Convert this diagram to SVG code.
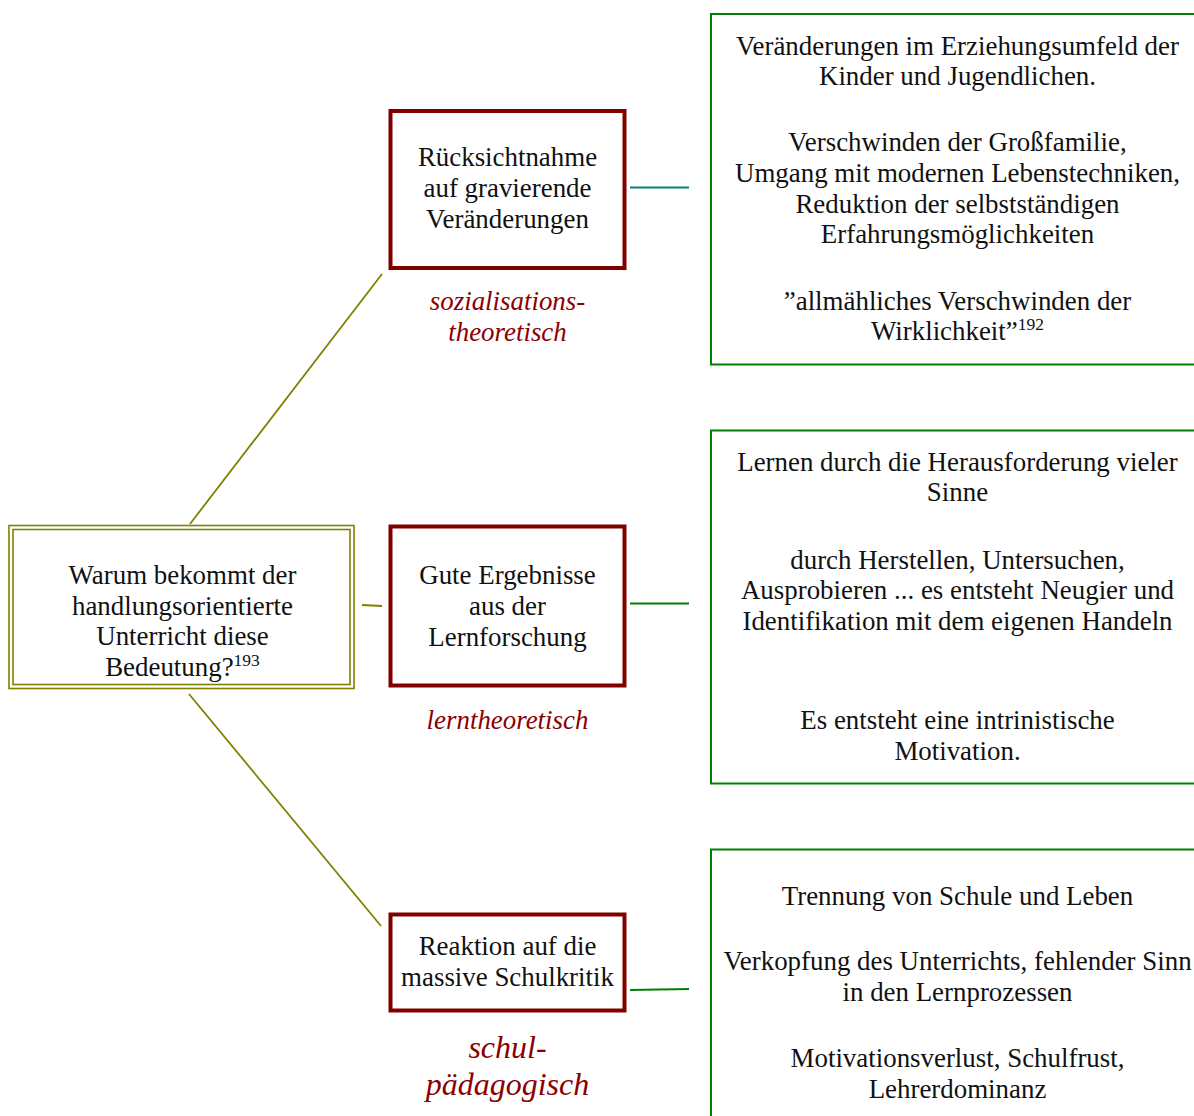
<svg xmlns="http://www.w3.org/2000/svg" width="1194" height="1116" viewBox="0 0 1194 1116">
<style>
text{font-family:"Liberation Serif","Times New Roman",serif;font-size:26.9px;fill:#111;text-anchor:middle}
.lbl{font-style:italic;fill:#8b0000}
.big{font-size:32px}
.sup{font-size:17.5px}
.red{fill:#fff;stroke:#800000;stroke-width:4}
.olive{fill:none;stroke:#808000;stroke-width:1.6}
.grn{fill:#fff;stroke:#008000;stroke-width:2}
.conn{fill:none;stroke-width:1.8}
</style>
<rect width="1194" height="1116" fill="#fff"/>
<g id="connectors">
<line class="conn" stroke="#808000" x1="190" y1="524" x2="382" y2="274"/>
<line class="conn" stroke="#808000" x1="362" y1="605" x2="382" y2="606"/>
<line class="conn" stroke="#808000" x1="189" y1="694" x2="381" y2="926"/>
<line class="conn" stroke="#008080" x1="630" y1="187.5" x2="689" y2="187.5"/>
<line class="conn" stroke="#008000" x1="630" y1="603.5" x2="689" y2="603.5"/>
<line class="conn" stroke="#008000" x1="630" y1="990" x2="689" y2="989"/>
</g>
<g id="root">
<rect class="olive" x="9" y="525.5" width="345" height="163"/>
<rect class="olive" x="13" y="529.5" width="337" height="155"/>
<text x="182.5" y="584">Warum bekommt der</text>
<text x="182.5" y="614.5">handlungsorientierte</text>
<text x="182.5" y="645">Unterricht diese</text>
<text x="182.5" y="676">Bedeutung?<tspan class="sup" dy="-10">193</tspan></text>
</g>
<g id="node-sozial">
<rect class="red" x="390.5" y="111" width="234" height="157"/>
<text x="507.5" y="165.5">Rücksichtnahme</text>
<text x="507.5" y="196.5">auf gravierende</text>
<text x="507.5" y="227.5">Veränderungen</text>
</g>
<g id="label-sozial">
<text class="lbl" x="507.5" y="310">sozialisations-</text>
<text class="lbl" x="507.5" y="340.5">theoretisch</text>
</g>
<g id="node-lern">
<rect class="red" x="390.5" y="526.5" width="234" height="159"/>
<text x="507.5" y="583.5">Gute Ergebnisse</text>
<text x="507.5" y="614.5">aus der</text>
<text x="507.5" y="645.5">Lernforschung</text>
</g>
<g id="label-lern">
<text class="lbl" x="507.5" y="728.5">lerntheoretisch</text>
</g>
<g id="node-schul">
<rect class="red" x="390.5" y="914.5" width="234" height="96"/>
<text x="507.5" y="955">Reaktion auf die</text>
<text x="507.5" y="986">massive Schulkritik</text>
</g>
<g id="label-schul">
<text class="lbl big" x="507.5" y="1057.5">schul-</text>
<text class="lbl big" x="507.5" y="1095">pädagogisch</text>
</g>
<g id="detail-sozial">
<rect class="grn" x="711" y="14" width="500" height="350.5"/>
<text x="957.5" y="54.5">Veränderungen im Erziehungsumfeld der</text>
<text x="957.5" y="85">Kinder und Jugendlichen.</text>
<text x="957.5" y="151">Verschwinden der Großfamilie,</text>
<text x="957.5" y="181.5">Umgang mit modernen Lebenstechniken,</text>
<text x="957.5" y="212.5">Reduktion der selbstständigen</text>
<text x="957.5" y="243">Erfahrungsmöglichkeiten</text>
<text x="957.5" y="309.5">”allmähliches Verschwinden der</text>
<text x="957.5" y="340">Wirklichkeit”<tspan class="sup" dy="-10">192</tspan></text>
</g>
<g id="detail-lern">
<rect class="grn" x="711" y="430.5" width="500" height="353"/>
<text x="957.5" y="470.5">Lernen durch die Herausforderung vieler</text>
<text x="957.5" y="501">Sinne</text>
<text x="957.5" y="568.5">durch Herstellen, Untersuchen,</text>
<text x="957.5" y="599">Ausprobieren ... es entsteht Neugier und</text>
<text x="957.5" y="629.5">Identifikation mit dem eigenen Handeln</text>
<text x="957.5" y="728.5">Es entsteht eine intrinistische</text>
<text x="957.5" y="759.5">Motivation.</text>
</g>
<g id="detail-schul">
<rect class="grn" x="711" y="849.5" width="500" height="300"/>
<text x="957.5" y="904.5">Trennung von Schule und Leben</text>
<text x="957.5" y="969.5">Verkopfung des Unterrichts, fehlender Sinn</text>
<text x="957.5" y="1000.5">in den Lernprozessen</text>
<text x="957.5" y="1067">Motivationsverlust, Schulfrust,</text>
<text x="957.5" y="1097.5">Lehrerdominanz</text>
</g>
</svg>
